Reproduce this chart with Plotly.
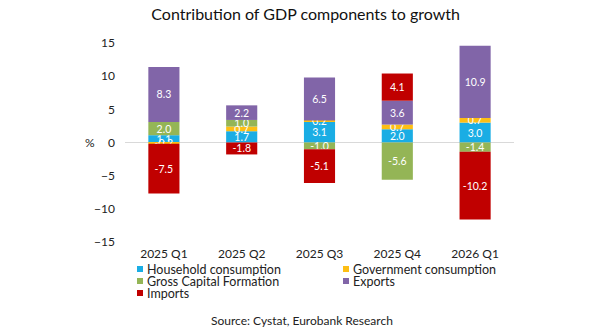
import plotly.graph_objects as go

categories = ["2025 Q1", "2025 Q2", "2025 Q3", "2025 Q4", "2026 Q1"]
household = [1.1, 1.7, 3.1, 2.0, 3.0]
government = [-0.2, 0.7, 0.2, 0.7, 0.7]
gcf = [2.0, 1.0, -1.0, -5.6, -1.4]
exports = [8.3, 2.2, 6.5, 3.6, 10.9]
imports = [-7.5, -1.8, -5.1, 4.1, -10.2]

series = [
    ("Household consumption", household, "#1AADE4"),
    ("Government consumption", government, "#FDBE14"),
    ("Gross Capital Formation", gcf, "#94B556"),
    ("Exports", exports, "#8165A8"),
    ("Imports", imports, "#C00000"),
]

FONT = "Lato"
W, H = 597, 335
L, R, T, B = 125, 83, 43, 93
PW, PH = W - L - R, H - T - B

def px_to_paper(x, y):
    return (x - L) / PW, (H - B - y) / PH

fig = go.Figure()
for name, vals, col in series:
    fig.add_trace(go.Bar(
        x=categories, y=vals, name=name, marker_color=col,
        marker_line_width=0,
        texttemplate="%{y:.1f}", textposition="inside",
        insidetextanchor="middle", textangle=0,
        textfont=dict(color="white", size=10.5, family=FONT),
        showlegend=False,
    ))

fig.update_layout(
    barmode="relative",
    bargap=0.6,
    width=W, height=H,
    margin=dict(l=L, r=R, t=T, b=B, autoexpand=False),
    paper_bgcolor="white", plot_bgcolor="white",
    font=dict(family=FONT, size=12, color="#222"),
    uniformtext=dict(minsize=10, mode="show"),
    title=dict(text="Contribution of GDP components to growth", x=0.512, xanchor="center",
               xref="container", y=0.958, yanchor="middle",
               font=dict(size=16, family=FONT, color="#111")),
    xaxis=dict(showgrid=False, showline=False, ticks="", tickfont=dict(size=12),
               ticklabelstandoff=3),
    yaxis=dict(range=[-15, 15], dtick=5, showgrid=False, zeroline=True,
               zerolinecolor="#D9D9D9", zerolinewidth=1, showline=False,
               tickfont=dict(size=12), ticklabelstandoff=9),
    showlegend=False,
)

# manual legend (two columns)
legend_pos = [(137, 269), (343, 269), (137, 281), (343, 281), (137, 293)]
for (name, vals, col), (lx, ly) in zip(series, legend_pos):
    x0, y0 = px_to_paper(lx, ly - 3)
    x1, y1 = px_to_paper(lx + 6, ly + 3)
    fig.add_shape(type="rect", xref="paper", yref="paper", x0=x0, x1=x1, y0=y1, y1=y0,
                  fillcolor=col, line_width=0)
    tx, ty = px_to_paper(lx + 8, ly)
    fig.add_annotation(text=name, xref="paper", yref="paper", x=tx, y=ty, showarrow=False,
                       xanchor="left", yanchor="middle", font=dict(size=12.5, family=FONT, color="#222"))

fig.add_annotation(text="%", xref="paper", yref="y", x=px_to_paper(90, 0)[0], y=0, showarrow=False,
                   xanchor="center", font=dict(size=12, family=FONT))
sx, sy = px_to_paper(302, 320)
fig.add_annotation(text="Source: Cystat, Eurobank Research", xref="paper", yref="paper",
                   x=sx, y=sy, showarrow=False, xanchor="center", yanchor="middle",
                   font=dict(size=12, family=FONT, color="#222"))

fig.write_html("out.html")
